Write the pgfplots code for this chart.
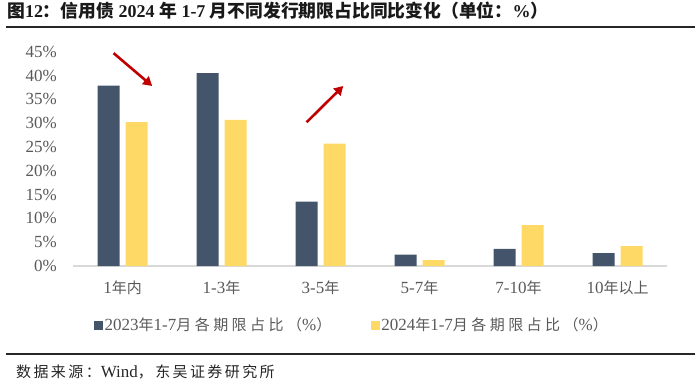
\documentclass[border=0pt]{standalone}
\usepackage{fontspec}
\setmainfont{Liberation Serif}
\newfontfamily\cjkfont{Noto Sans CJK SC}
\newfontfamily\cjkls{Noto Sans CJK SC}[LetterSpace=16]
\newfontfamily\cjklg{Noto Sans CJK SC}[LetterSpace=23]
\usepackage{pgfplots}
\pgfplotsset{compat=1.18}
\usetikzlibrary{arrows.meta}
\definecolor{cA}{HTML}{44546A}
\definecolor{cB}{HTML}{FFD966}
\definecolor{txt}{HTML}{595959}
\definecolor{arr}{HTML}{C00000}
\newcommand{\C}[1]{{\cjkfont\fontsize{15}{15}\selectfont #1}}
\newcommand{\CL}[1]{{\cjkls\fontsize{15}{15}\selectfont #1}}
\newcommand{\CG}[1]{{\cjklg\fontsize{15}{15}\selectfont #1}}
\newcommand{\CT}[1]{{\cjkfont\bfseries\fontsize{17.8}{17.8}\selectfont #1}}
\pgfplotsset{ybar legend/.style={legend image code/.code={\fill[##1] (0pt,-4.5pt) rectangle (9pt,4.5pt);}}}
\begin{document}
\begin{tikzpicture}[x=1pt,y=1pt]
\path (0,0) rectangle (700,389);
\node[anchor=west, inner sep=0pt, text=black!90] at (7,378) {\fontsize{18}{18}\selectfont\bfseries \CT{图}12\CT{：信用债} 2024 \CT{年} 1-7 \CT{月不同发行期限占比同比变化（单位：}\%\CT{）}};
\draw[line width=2pt, color=black!85] (6,362) -- (695,362);
\draw[line width=1.5pt, color=black!85] (6,35) -- (695,35);
\node[anchor=west, inner sep=0pt, text=black!85] at (16,17) {\fontsize{17}{17}\selectfont \CL{数据来源：}Wind\CL{，东吴证券研究所}};
\begin{axis}[
 at={(73pt,123pt)}, anchor=south west,
 scale only axis, width=594pt, height=214.3pt,
 xmin=-0.5, xmax=5.5, ymin=0, ymax=45,
 ybar=6pt, bar width=22pt,
 clip=false,
 axis x line*=bottom, axis y line*=left,
 x axis line style={draw=black!15, line width=1.2pt, -},
 y axis line style={draw=none},
 major tick length=0pt,
 xtick={0,...,5},
 xticklabels={1\C{年内}, 1-3\C{年}, 3-5\C{年}, 5-7\C{年}, 7-10\C{年}, 10\C{年以上}},
 ytick={0,5,...,45},
 yticklabels={0\%,5\%,10\%,15\%,20\%,25\%,30\%,35\%,40\%,45\%},
 tick label style={font=\fontsize{17}{17}\selectfont, text=txt, inner sep=0pt},
 xticklabel style={anchor=center, yshift=-22pt},
 yticklabel style={anchor=east, xshift=-16pt},
 legend style={at={(0.0354,-0.2753)}, anchor=west, draw=none, fill=none, inner sep=0pt,
   legend columns=2, font=\fontsize{17}{17}\selectfont, text=txt,
   nodes={inner sep=1.5pt},
   /tikz/every even column/.append style={column sep=38pt}},
 legend cell align=left,
]
\addplot[fill=cA, draw=none] coordinates {(0,37.9) (1,40.5) (2,13.5) (3,2.4) (4,3.6) (5,2.7)};
\addlegendentry{2023\CG{年}1-7\CG{月各期限占比（}\%\CG{）}}
\addplot[fill=cB, draw=none] coordinates {(0,30.2) (1,30.7) (2,25.7) (3,1.26) (4,8.6) (5,4.2)};
\addlegendentry{2024\CG{年}1-7\CG{月各期限占比（}\%\CG{）}}
\draw[arr, line width=2.6pt, -{Triangle[length=9pt,width=10pt]}] (axis cs:-0.09,44.7) -- (axis cs:0.30,37.8);
\draw[arr, line width=2.6pt, -{Triangle[length=9pt,width=10pt]}] (axis cs:1.86,30.2) -- (axis cs:2.23,37.8);
\end{axis}
\end{tikzpicture}
\end{document}
